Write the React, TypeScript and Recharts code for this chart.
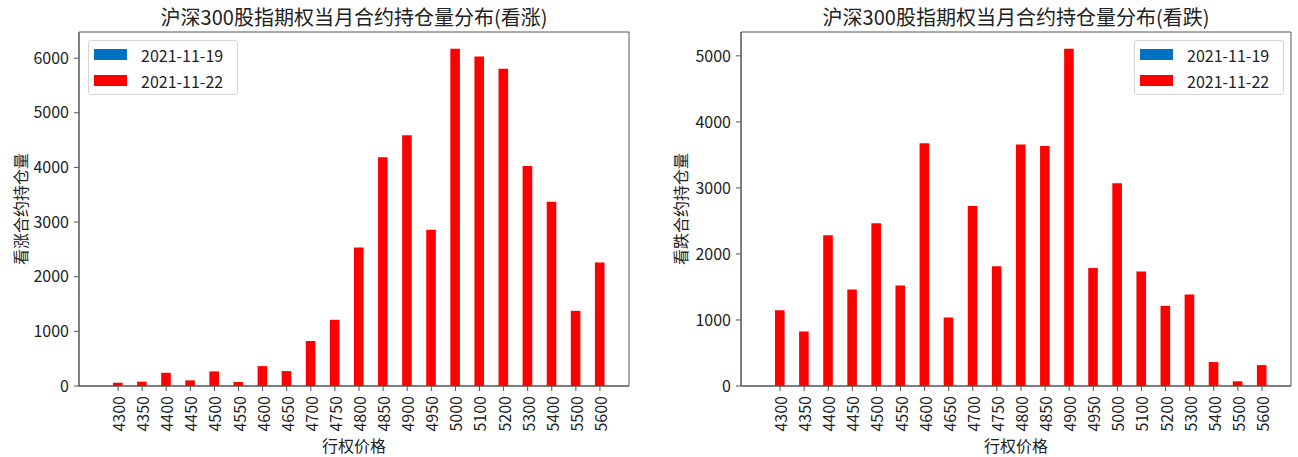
import React from "react";
import { BarChart, Bar, XAxis, YAxis, CartesianGrid } from "recharts";

// strike prices (行权价格)
const STRIKES = [
  "4300", "4350", "4400", "4450", "4500", "4550", "4600", "4650", "4700", "4750",
  "4800", "4850", "4900", "4950", "5000", "5100", "5200", "5300", "5400", "5500", "5600",
];

// open interest on 2021-11-22
const CALL_OI = [
  60, 79, 242, 103, 267, 73, 364, 273, 824, 1212,
  2533, 4188, 4588, 2861, 6170, 6030, 5806, 4024, 3370, 1376, 2261,
];
const PUT_OI = [
  1149, 826, 2282, 1461, 2463, 1521, 3677, 1038, 2727, 1814,
  3657, 3636, 5106, 1788, 3071, 1733, 1214, 1385, 363, 71, 317,
];

const LEGEND_DATES = ["2021-11-19", "2021-11-22"];
const LEGEND_COLORS = ["#0070C0", "#FF0000"];

const CALL_TICKS = [0, 1000, 2000, 3000, 4000, 5000, 6000];
const PUT_TICKS = [0, 1000, 2000, 3000, 4000, 5000];

const FONT = "'Noto Sans CJK SC', 'Noto Sans', sans-serif";
const TEXT = "#222";
const AXIS = "#555";

const callData = STRIKES.map((s, i) => ({ strike: s, oi: CALL_OI[i] }));
const putData = STRIKES.map((s, i) => ({ strike: s, oi: PUT_OI[i] }));

function StrikeTick(props: any) {
  const { x, y, payload } = props;
  return (
    <g transform={`translate(${x},${y})`}>
      <text
        transform="rotate(-90)"
        textAnchor="end"
        dominantBaseline="central"
        fontSize={16}
        fontFamily={FONT}
        fill={TEXT}
      >
        {payload.value}
      </text>
    </g>
  );
}

function LegendBox({ left }: { left: number }) {
  return (
    <div
      style={{
        position: "absolute",
        left,
        top: 40,
        width: 150,
        height: 55,
        boxSizing: "border-box",
        border: "1px solid #d4d4d4",
        borderRadius: 3,
        background: "rgba(255,255,255,0.8)",
        paddingTop: 1,
        paddingLeft: 5,
        fontFamily: FONT,
        fontSize: 16,
        color: TEXT,
      }}
    >
      {LEGEND_DATES.map((d, i) => (
        <div key={d} style={{ display: "flex", alignItems: "center", height: 25.7 }}>
          <span
            style={{
              display: "inline-block",
              width: 33,
              height: 11,
              background: LEGEND_COLORS[i],
              marginRight: 14,
            }}
          />
          <span style={{ lineHeight: "16px" }}>{d}</span>
        </div>
      ))}
    </div>
  );
}

interface PanelProps {
  data: { strike: string; oi: number }[];
  ticks: number[];
  title: string;
  yLabel: string;
  left: number;
  marginLeft: number;
  yWidth: number;
  marginRight: number;
  legendLeft: number;
}

// frame lines on the edges of the plot area (matplotlib-style box)
const frameX = ({ offset }: any) => [offset.left, offset.left + offset.width];
const frameY = ({ offset }: any) => [offset.top, offset.top + offset.height];

function Panel({ data, ticks, title, yLabel, left, marginLeft, yWidth, marginRight, legendLeft }: PanelProps) {
  const plotLeft = marginLeft + yWidth;
  const plotWidth = 650 - plotLeft - marginRight;
  return (
    <div style={{ position: "absolute", left, top: 0, width: 650, height: 457 }}>
      <BarChart
        width={650}
        height={457}
        data={data}
        margin={{ top: 32, right: marginRight, bottom: 0, left: marginLeft }}
      >
        <CartesianGrid
          stroke={AXIS}
          strokeWidth={1}
          verticalCoordinatesGenerator={frameX}
          horizontalCoordinatesGenerator={frameY}
        />
        <XAxis
          dataKey="strike"
          interval={0}
          height={71}
          padding={{ left: 27, right: 17 }}
          tick={<StrikeTick />}
          tickSize={5}
          tickMargin={5}
          stroke={AXIS}
          tickLine={{ stroke: AXIS }}
          label={{
            value: "行权价格",
            position: "insideBottom",
            offset: 5,
            style: { fontSize: 16, fontFamily: FONT, fill: TEXT },
          }}
        />
        <YAxis
          width={yWidth}
          domain={[0, (max: number) => max * 1.05]}
          ticks={ticks}
          tickSize={5}
          tickMargin={5}
          stroke={AXIS}
          tick={{ fontSize: 16, fontFamily: FONT, fill: TEXT }}
          label={{
            value: yLabel,
            angle: -90,
            position: "insideLeft",
            offset: 5,
            style: { textAnchor: "middle", fontSize: 16, fontFamily: FONT, fill: TEXT },
          }}
        />
        <Bar dataKey="oi" fill="#FF0000" barSize={9.6} isAnimationActive={false} />
      </BarChart>
      <div
        style={{
          position: "absolute",
          left: plotLeft,
          width: plotWidth,
          top: 7,
          textAlign: "center",
          fontFamily: FONT,
          fontSize: 20,
          lineHeight: "20px",
          color: TEXT,
          whiteSpace: "nowrap",
        }}
      >
        {title}
      </div>
      <LegendBox left={legendLeft} />
    </div>
  );
}

export default function App() {
  return (
    <div style={{ position: "absolute", left: 0, top: 0, width: 1298, height: 457, background: "#fff" }}>
      <Panel
        data={callData}
        ticks={CALL_TICKS}
        title="沪深300股指期权当月合约持仓量分布(看涨)"
        yLabel="看涨合约持仓量"
        left={0}
        marginLeft={16}
        yWidth={63}
        marginRight={21}
        legendLeft={88}
      />
      <Panel
        data={putData}
        ticks={PUT_TICKS}
        title="沪深300股指期权当月合约持仓量分布(看跌)"
        yLabel="看跌合约持仓量"
        left={648}
        marginLeft={28}
        yWidth={65}
        marginRight={7}
        legendLeft={486}
      />
    </div>
  );
}
